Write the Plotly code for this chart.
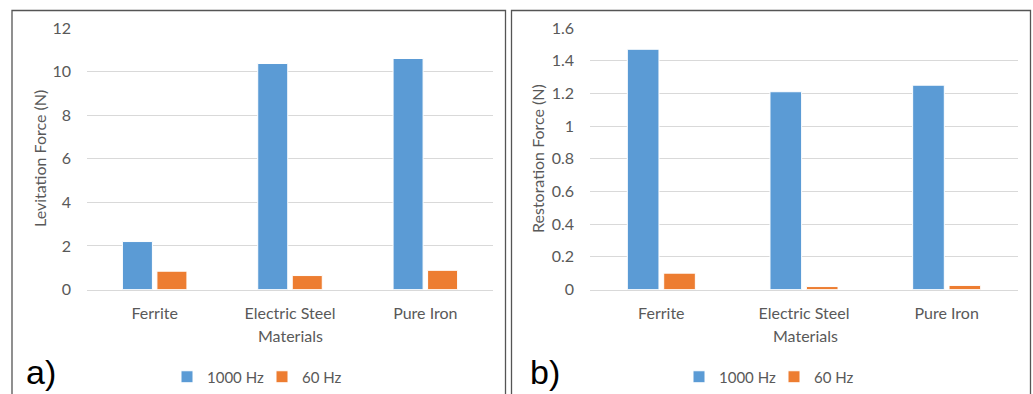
import plotly.graph_objects as go

categories = ["Ferrite", "Electric Steel", "Pure Iron"]
series_names = ["1000 Hz", "60 Hz"]
levitation_1000 = [2.2, 10.37, 10.6]
levitation_60 = [0.84, 0.64, 0.88]
restoration_1000 = [1.47, 1.21, 1.25]
restoration_60 = [0.10, 0.018, 0.025]
lev_ticks = [0, 2, 4, 6, 8, 10, 12]
res_ticks = [0, 0.2, 0.4, 0.6, 0.8, 1, 1.2, 1.4, 1.6]
res_tick_text = ["0", "0.2", "0.4", "0.6", "0.8", "1", "1.2", "1.4", "1.6"]

BLUE = "#5B9BD5"
ORANGE = "#ED7D31"
GRAY = "#595959"
FONT = "Lato"
W, H = 1033, 394

fig = go.Figure()
for name, vals, col in [(series_names[0], levitation_1000, BLUE), (series_names[1], levitation_60, ORANGE)]:
    fig.add_trace(go.Bar(x=categories, y=vals, name=name, marker=dict(color=col, line=dict(color="white", width=1)),
                         xaxis="x", yaxis="y", legend="legend"))
for name, vals, col in [(series_names[0], restoration_1000, BLUE), (series_names[1], restoration_60, ORANGE)]:
    fig.add_trace(go.Bar(x=categories, y=vals, name=name, marker=dict(color=col, line=dict(color="white", width=1)),
                         xaxis="x2", yaxis="y2", legend="legend2"))

ydom = [(394 - 289.5) / H, (394 - 28) / H]
axis_common = dict(showgrid=False, showline=True, linecolor="#d9d9d9", linewidth=1, ticks="", automargin=False,
                   tickfont=dict(family=FONT, size=16, color=GRAY), ticklabelstandoff=9, fixedrange=True)
yaxis_common = dict(showgrid=True, gridcolor="#d9d9d9", gridwidth=1, zeroline=False, showline=False, ticks="",
                    automargin=False,
                    tickfont=dict(family=FONT, size=16, color=GRAY), ticklabelstandoff=15, fixedrange=True)

legend_common = dict(orientation="h", xanchor="center", y=17 / H, yanchor="middle",
                     font=dict(family=FONT, size=15, color=GRAY), bgcolor="rgba(0,0,0,0)", itemwidth=30,
                     entrywidth=50, entrywidthmode="pixels")

fig.update_layout(
    width=W, height=H, margin=dict(l=0, r=0, t=0, b=0, autoexpand=False),
    paper_bgcolor="white", plot_bgcolor="white",
    barmode="group", bargap=0.49, bargroupgap=0.13,
    xaxis=dict(domain=[87 / W, 493 / W], anchor="y", **axis_common),
    yaxis=dict(domain=ydom, anchor="x", range=[0, 12], tickvals=lev_ticks, **yaxis_common),
    xaxis2=dict(domain=[590 / W, 1018 / W], anchor="y2", **axis_common),
    yaxis2=dict(domain=ydom, anchor="x2", range=[0, 1.6], tickvals=res_ticks, ticktext=res_tick_text, **yaxis_common),
    legend=dict(x=262 / W, **legend_common),
    legend2=dict(x=774 / W, **legend_common),
    shapes=[
        dict(type="rect", xref="paper", yref="paper", x0=12 / W, x1=505.5 / W, y0=-0.05, y1=(394 - 10.5) / H,
             line=dict(color="#555555", width=1.3)),
        dict(type="rect", xref="paper", yref="paper", x0=511.5 / W, x1=1030.5 / W, y0=-0.05, y1=(394 - 10.5) / H,
             line=dict(color="#555555", width=1.3)),
    ],
    annotations=[
        dict(text="Materials", xref="paper", yref="paper", x=290 / W, y=(394 - 335.5) / H, showarrow=False,
             xanchor="center", yanchor="middle", font=dict(family=FONT, size=16, color=GRAY)),
        dict(text="Materials", xref="paper", yref="paper", x=805 / W, y=(394 - 335.5) / H, showarrow=False,
             xanchor="center", yanchor="middle", font=dict(family=FONT, size=16, color=GRAY)),
        dict(text="Levitation Force (N)", xref="paper", yref="paper", x=39 / W, y=(394 - 159) / H, showarrow=False,
             textangle=-90, xanchor="center", yanchor="middle", font=dict(family=FONT, size=16, color=GRAY)),
        dict(text="Restoration Force (N)", xref="paper", yref="paper", x=537 / W, y=(394 - 159) / H, showarrow=False,
             textangle=-90, xanchor="center", yanchor="middle", font=dict(family=FONT, size=16, color=GRAY)),
        dict(text="a)", xref="paper", yref="paper", x=24 / W, y=(394 - 372) / H, showarrow=False,
             xanchor="left", yanchor="middle", font=dict(family="Liberation Sans", size=34, color="black")),
        dict(text="b)", xref="paper", yref="paper", x=528 / W, y=(394 - 372) / H, showarrow=False,
             xanchor="left", yanchor="middle", font=dict(family="Liberation Sans", size=34, color="black")),
    ],
)

fig.write_html("out.html")
